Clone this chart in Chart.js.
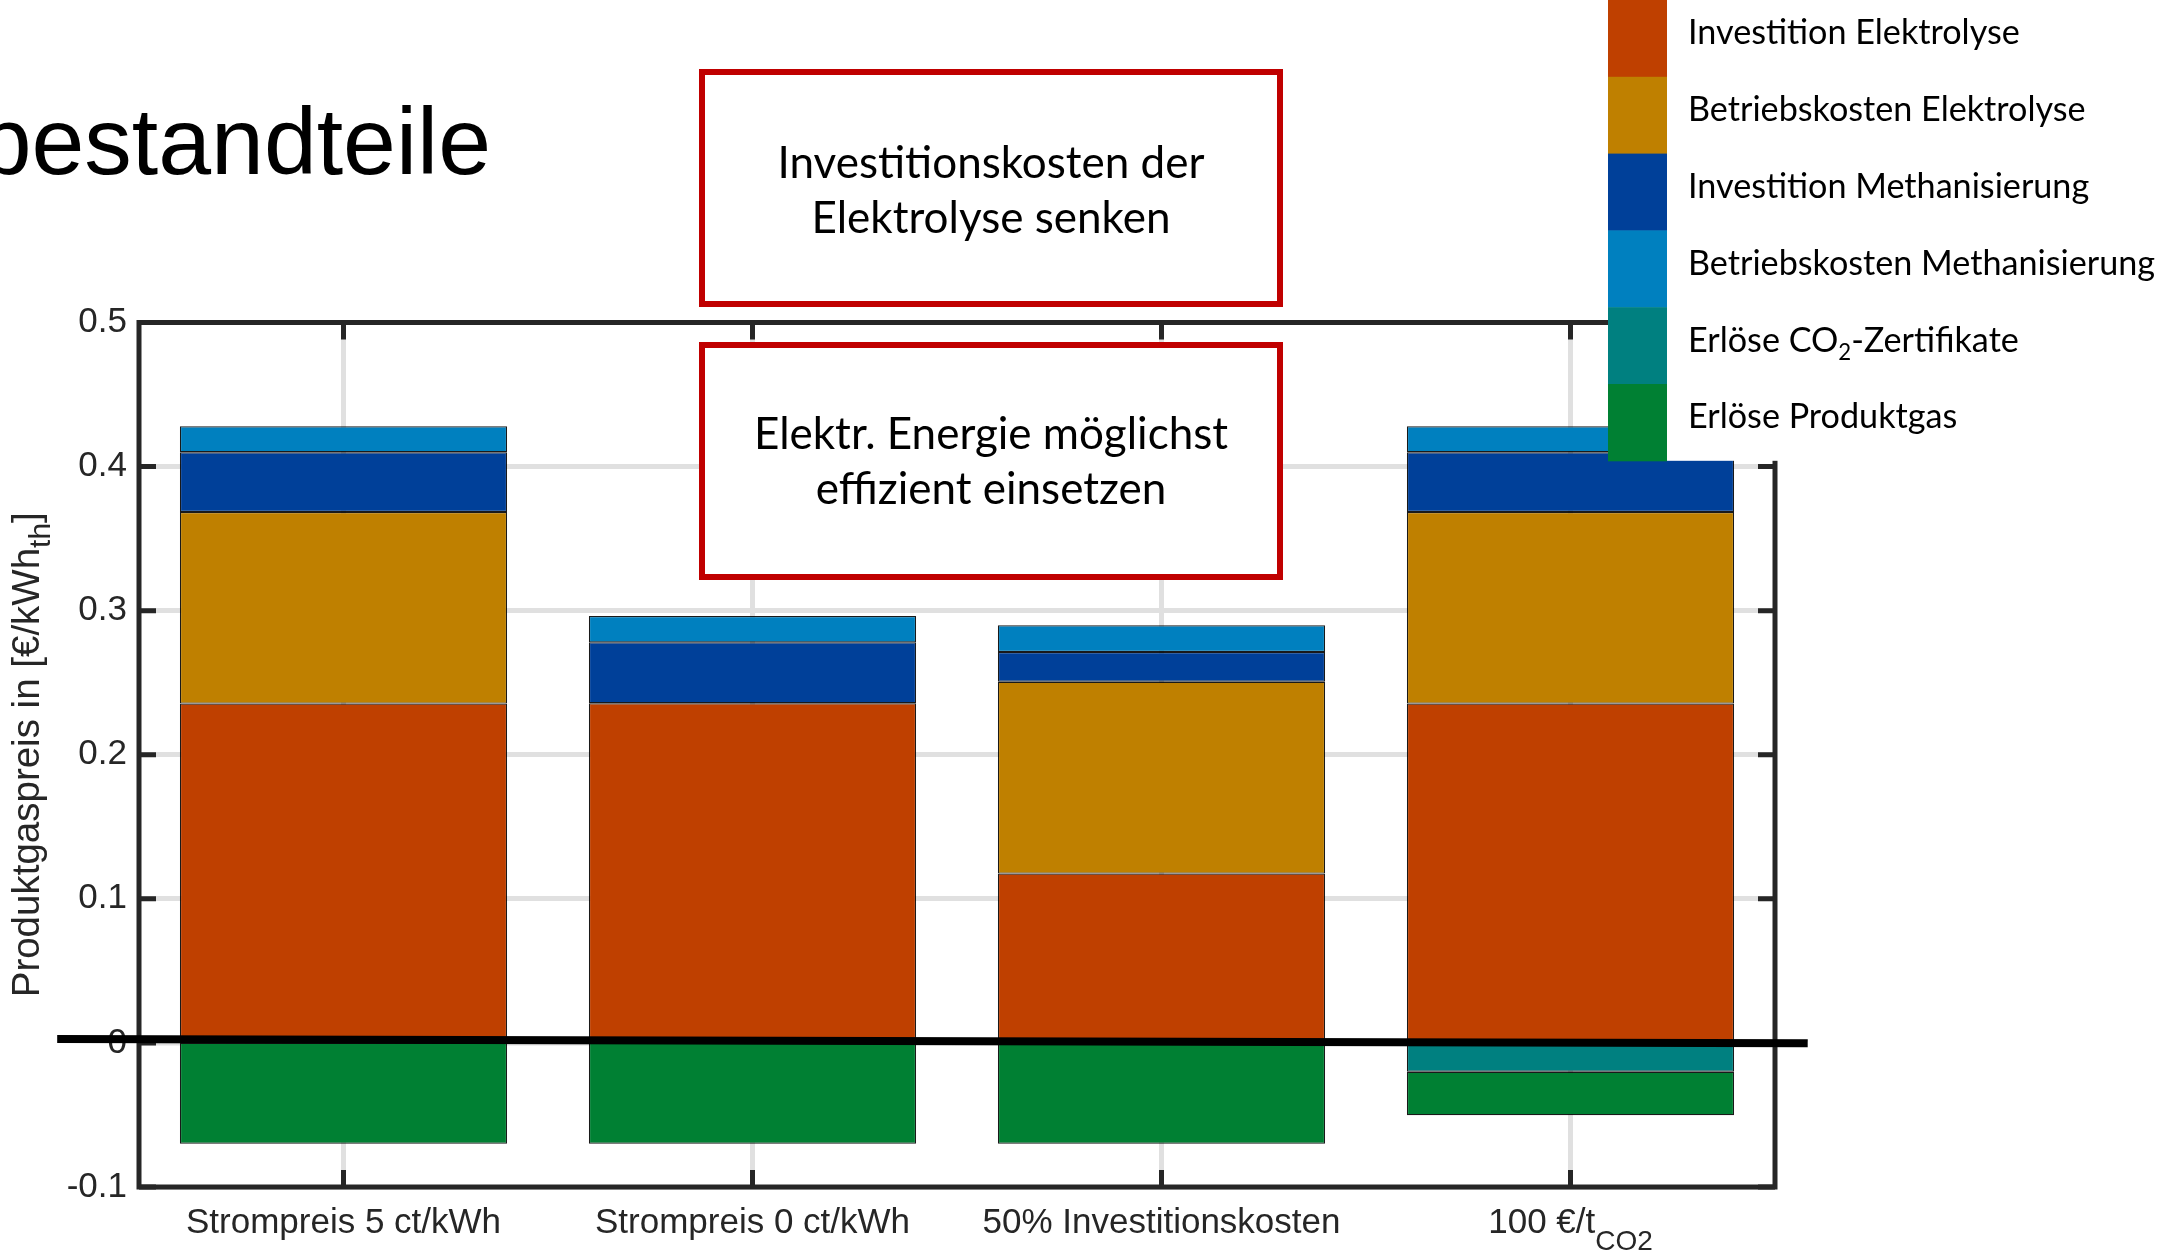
<!DOCTYPE html>
<html lang="de">
<head>
<meta charset="utf-8">
<title>Produktgaspreis</title>
<script src="https://cdn.jsdelivr.net/npm/chart.js@4.4.1/dist/chart.umd.min.js"></script>
<style>
  html, body { margin: 0; padding: 0; background: #ffffff; overflow: hidden; }
  canvas { display: block; }
</style>
</head>
<body>
<canvas id="chart" width="2161" height="1260"></canvas>
<script>
// Szenarien (TeX-artige Tiefstellung mit _{...})
const scenarios = ['Strompreis 5 ct/kWh', 'Strompreis 0 ct/kWh', '50% Investitionskosten', '100 €/t_{CO2}'];

// Kostenbestandteile des Produktgaspreises in €/kWh_th (null = kein Beitrag)
const investElektrolyse  = [0.2355, 0.2357, 0.1175, 0.2355];
const betriebElektrolyse = [0.1330, 0.0000, 0.1332, 0.1330];
const investMethan       = [0.0414, 0.0423, 0.0206, 0.0414];
const betriebMethan      = [0.0181, 0.0183, 0.0185, 0.0181];
const erloesCO2          = [null, null, null, -0.0200];
const erloesProduktgas   = [-0.0700, -0.0700, -0.0700, -0.0302];

const seriesNames = [
  'Investition Elektrolyse',
  'Betriebskosten Elektrolyse',
  'Investition Methanisierung',
  'Betriebskosten Methanisierung',
  'Erlöse CO_{2}-Zertifikate',
  'Erlöse Produktgas'
];
const seriesColors = ['#BF4000', '#BF8000', '#004099', '#0080BF', '#008080', '#008033'];

const yTicks      = [-0.1, 0, 0.1, 0.2, 0.3, 0.4, 0.5];
const yTickLabels = ['-0.1', '0', '0.1', '0.2', '0.3', '0.4', '0.5'];
const yTitle      = 'Produktgaspreis in [€/kWh_{th}]';
const headline    = 'bestandteile';
const notes = [
  ['Investitionskosten der', 'Elektrolyse senken'],
  ['Elektr. Energie möglichst', 'effizient einsetzen']
];

// Markierung der Nulllinie (Kategorie-Index, €/kWh)
const zeroMarkX = [-0.70, 3.58];
const zeroMarkY = [0.0027, -0.0003];

const GRID_COLOR = '#E0E0E0';
const GRID_WIDTH = 5;

// ---------- Hilfsfunktionen für Text mit Tiefstellung ----------
function parseTex(str) {
  const parts = [];
  const re = /_\{([^}]*)\}/g;
  let last = 0, m;
  while ((m = re.exec(str))) {
    if (m.index > last) parts.push({ t: str.slice(last, m.index), sub: false });
    parts.push({ t: m[1], sub: true });
    last = re.lastIndex;
  }
  if (last < str.length) parts.push({ t: str.slice(last), sub: false });
  return parts;
}

function drawRich(ctx, str, x, y, o) {
  const parts = parseTex(str);
  const fontOf = p => `${p.sub ? o.subSize : o.size}px ${o.family}`;
  let w = 0;
  parts.forEach(p => { ctx.font = fontOf(p); p.w = ctx.measureText(p.t).width; w += p.w; });
  let cx = o.align === 'center' ? x - w / 2 : (o.align === 'right' ? x - w : x);
  ctx.textAlign = 'left';
  ctx.textBaseline = 'alphabetic';
  ctx.fillStyle = o.color;
  parts.forEach(p => {
    ctx.font = fontOf(p);
    ctx.fillText(p.t, cx, y + (p.sub ? o.subShift : 0));
    cx += p.w;
  });
  return w;
}

function fitSize(ctx, text, family, target) {
  ctx.font = `100px ${family}`;
  return 100 * target / ctx.measureText(text).width;
}

// ---------- Achsenrahmen, Ticks, Beschriftungen, Hinweise, Legende ----------
const decorPlugin = {
  id: 'decor',
  beforeDatasetsDraw(chart) {
    // Gitterlinie bei 0 (im Scale mit Breite 0, damit die Balken direkt bei 0 ansetzen)
    const { ctx, chartArea: a, scales: { y } } = chart;
    const py = y.getPixelForValue(0);
    ctx.save();
    ctx.strokeStyle = GRID_COLOR;
    ctx.lineWidth = GRID_WIDTH;
    ctx.beginPath();
    ctx.moveTo(a.left, py);
    ctx.lineTo(a.right, py);
    ctx.stroke();
    ctx.restore();
  },
  afterDatasetsDraw(chart) {
    const { ctx, chartArea: a, scales: { x, y } } = chart;
    ctx.save();
    ctx.strokeStyle = '#262626';
    ctx.lineWidth = 5;
    ctx.lineCap = 'butt';
    ctx.strokeRect(a.left, a.top, a.right - a.left, a.bottom - a.top);
    const tl = 17;
    ctx.beginPath();
    scenarios.forEach((_, i) => {
      const px = x.getPixelForValue(i);
      ctx.moveTo(px, a.bottom); ctx.lineTo(px, a.bottom - tl);
      ctx.moveTo(px, a.top);    ctx.lineTo(px, a.top + tl);
    });
    yTicks.forEach(v => {
      const py = y.getPixelForValue(v);
      ctx.moveTo(a.left, py);  ctx.lineTo(a.left + tl, py);
      ctx.moveTo(a.right, py); ctx.lineTo(a.right - tl, py);
    });
    ctx.stroke();

    // Nulllinie
    ctx.strokeStyle = '#000000';
    ctx.lineWidth = 8;
    ctx.beginPath();
    ctx.moveTo(x.getPixelForValue(zeroMarkX[0]), y.getPixelForValue(zeroMarkY[0]));
    ctx.lineTo(x.getPixelForValue(zeroMarkX[1]), y.getPixelForValue(zeroMarkY[1]));
    ctx.stroke();
    ctx.restore();
  },
  afterDraw(chart) {
    const { ctx, chartArea: a, scales: { x } } = chart;
    ctx.save();

    // Kategorienbeschriftung
    scenarios.forEach((label, i) => {
      drawRich(ctx, label, x.getPixelForValue(i), a.bottom + 46, {
        family: '"Liberation Sans", Arial, sans-serif', size: 35, subSize: 28, subShift: 17,
        align: 'center', color: '#262626'
      });
    });

    // y-Achsentitel
    ctx.save();
    ctx.translate(38.5, (a.top + a.bottom) / 2);
    ctx.rotate(-Math.PI / 2);
    drawRich(ctx, yTitle, 0, 0, {
      family: '"Liberation Sans", Arial, sans-serif', size: 38.5, subSize: 30, subShift: 11,
      align: 'center', color: '#262626'
    });
    ctx.restore();

    // Überschrift
    ctx.fillStyle = '#000000';
    ctx.font = '95px "Liberation Sans", Arial, sans-serif';
    ctx.textAlign = 'right';
    ctx.textBaseline = 'alphabetic';
    ctx.fillText(headline, 491, 174);

    // Hinweiskästen
    const noteFont = 'Lato, "Open Sans", sans-serif';
    const noteSize = fitSize(ctx, notes[0][0], noteFont, 427);
    const boxes = [
      { x: 702, y: 72, w: 578, h: 232, base: [178, 233] },
      { x: 702, y: 345, w: 578, h: 232, base: [449, 504] }
    ];
    boxes.forEach((b, k) => {
      ctx.fillStyle = '#ffffff';
      ctx.fillRect(b.x, b.y, b.w, b.h);
      ctx.strokeStyle = '#C00000';
      ctx.lineWidth = 6;
      ctx.strokeRect(b.x, b.y, b.w, b.h);
      ctx.fillStyle = '#000000';
      ctx.font = `${noteSize}px ${noteFont}`;
      ctx.textAlign = 'center';
      ctx.textBaseline = 'alphabetic';
      notes[k].forEach((line, j) => ctx.fillText(line, b.x + b.w / 2, b.base[j]));
    });

    // Legende
    const legX = 1608, legW = 59, rowH = 76.8;
    const legFont = 'Lato, "Open Sans", sans-serif';
    const legSize = fitSize(ctx, seriesNames[0], legFont, 332);
    ctx.fillStyle = '#ffffff';
    ctx.fillRect(legX, 0, chart.width - legX, rowH * seriesNames.length);
    chart.data.datasets.forEach((ds, i) => {
      const top = i * rowH;
      ctx.fillStyle = ds.backgroundColor;
      ctx.fillRect(legX, top, legW, rowH + 0.5);
      drawRich(ctx, seriesNames[i], 1688, top + rowH / 2 + 6, {
        family: legFont, size: legSize, subSize: legSize * 0.65, subShift: legSize * 0.25,
        align: 'left', color: '#000000'
      });
    });

    ctx.restore();
  }
};

const datasets = [investElektrolyse, betriebElektrolyse, investMethan, betriebMethan, erloesCO2, erloesProduktgas]
  .map((values, i) => ({
    label: seriesNames[i],
    data: values,
    backgroundColor: seriesColors[i],
    borderColor: 'rgba(0,0,0,0.9)',
    borderWidth: 1.2,
    borderSkipped: false,
    barPercentage: 0.8,
    categoryPercentage: 1.0,
    stack: 'kosten'
  }));

new Chart(document.getElementById('chart').getContext('2d'), {
  type: 'bar',
  data: { labels: scenarios, datasets },
  options: {
    responsive: false,
    animation: false,
    devicePixelRatio: 1,
    layout: { padding: { left: 0, top: 322.5, right: 386, bottom: 0 } },
    plugins: { legend: { display: false }, tooltip: { enabled: false }, title: { display: false } },
    scales: {
      x: {
        type: 'category',
        stacked: true,
        offset: true,
        grid: { offset: false, color: GRID_COLOR, lineWidth: GRID_WIDTH, drawTicks: false },
        border: { display: false },
        ticks: { display: false },
        afterFit: s => { s.height = 73; }
      },
      y: {
        stacked: true,
        min: -0.1,
        max: 0.5,
        afterBuildTicks: s => { s.ticks = yTicks.map(v => ({ value: v })); },
        grid: {
          color: GRID_COLOR,
          lineWidth: c => (c.tick && c.tick.value === 0 ? 0 : GRID_WIDTH),
          drawTicks: false
        },
        border: { display: false },
        ticks: {
          padding: 12,
          color: '#262626',
          font: { family: '"Liberation Sans", Arial, sans-serif', size: 35 },
          callback: v => { const k = yTicks.indexOf(v); return k >= 0 ? yTickLabels[k] : ''; }
        },
        afterFit: s => { s.width = 139; }
      }
    }
  },
  plugins: [decorPlugin]
});
</script>
</body>
</html>
